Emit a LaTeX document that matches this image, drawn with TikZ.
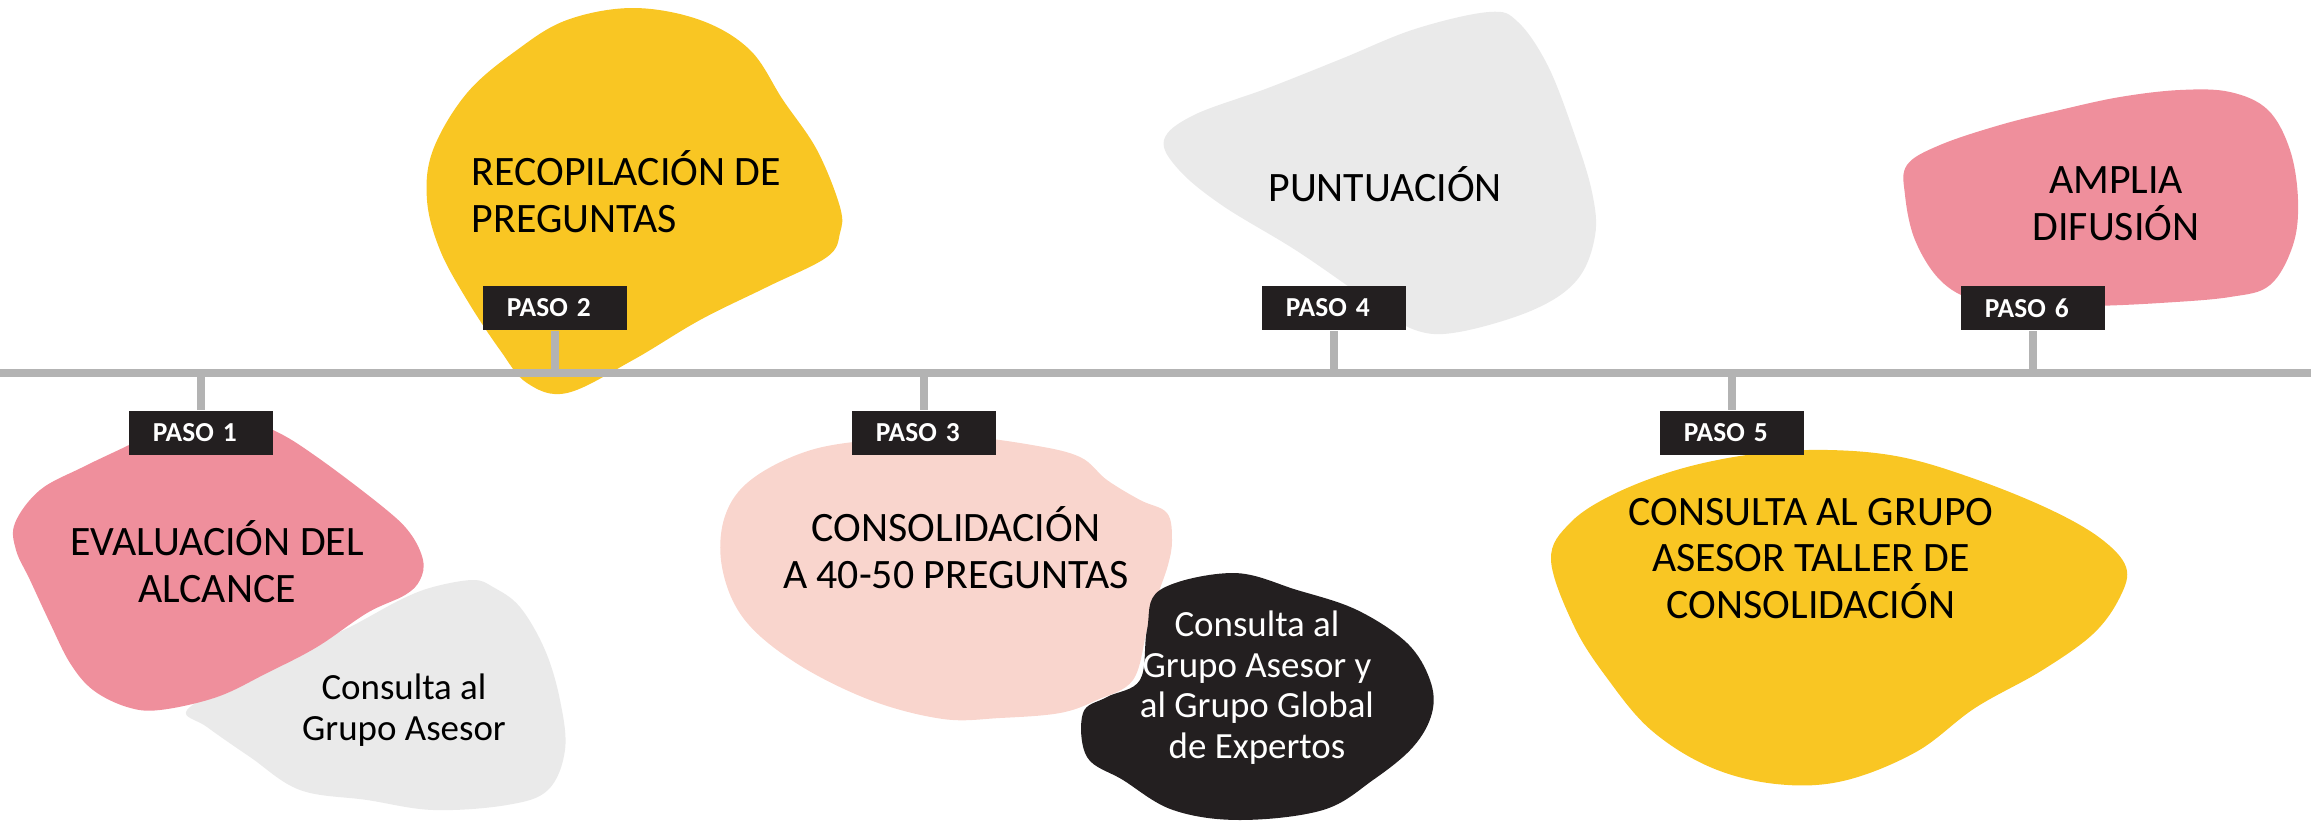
\documentclass[tikz,border=0pt]{standalone}
\usepackage{fontspec}
\setmainfont{Carlito}
\definecolor{cyel}{HTML}{F9C623}
\definecolor{cpink}{HTML}{EF8F9C}
\definecolor{clpink}{HTML}{F9D5CD}
\definecolor{cgray}{HTML}{EAEAEA}
\definecolor{cblack}{HTML}{231F20}
\definecolor{cline}{HTML}{B3B3B3}
\tikzset{
  pasobox/.style={fill=cblack, text=white, font=\fontsize{7.8}{9}\selectfont\bfseries,
    minimum height=0.44cm, inner xsep=0.24cm, inner ysep=0pt, text width=0.96cm, align=left},
  tick/.style={draw=cline, line width=2.3pt},
  biglabel/.style={font=\fontsize{11.9}{13.2}\selectfont, align=center, inner sep=0pt, anchor=base},
  smalllabel/.style={font=\fontsize{10.5}{11.5}\selectfont, align=center, inner sep=0pt, anchor=base},
}
\begin{document}
\begin{tikzpicture}[x=0.01cm,y=-0.01cm]
\useasboundingbox (0,0) rectangle (2311,833);
% blobs
\fill[cgray] plot[smooth cycle, tension=0.6] coordinates {(187,710) (207,727) (250,757) (300,790) (367,800) (433,810) (507,805) (548,790) (565,750) (560,700) (545,650) (520,607) (493,587) (473,580) (433,587) (400,600) (350,627) (300,650) (240,680)};
\fill[cpink] plot[smooth cycle, tension=0.6] coordinates {(15,523) (40,490) (83,467) (129,445) (175,422) (220,412) (273,430) (317,457) (383,507) (410,533) (423,560) (420,580) (405,595) (367,613) (317,647) (267,673) (217,697) (160,710) (127,707) (93,690) (70,663) (50,623) (30,580) (16,550)};
\fill[cyel] plot[smooth cycle, tension=0.6] coordinates {(427,200) (433,150) (467,93) (517,50) (567,20) (633,8) (700,20) (750,50) (783,100) (817,150) (840,207) (840,233) (827,257) (767,287) (700,320) (633,360) (567,393) (527,383) (500,350) (467,300) (440,250)};
\fill[cgray] plot[smooth cycle, tension=0.6] coordinates {(1164,140) (1194,115) (1268,88) (1341,59) (1415,29) (1489,12) (1518,22) (1548,66) (1574,133) (1592,192) (1595,236) (1577,280) (1533,310) (1459,332) (1415,330) (1371,302) (1297,251) (1223,206) (1179,170)};
\fill[cpink] plot[smooth cycle, tension=0.6] coordinates {(1907,165) (1940,145) (2000,125) (2060,110) (2120,97) (2180,90) (2230,92) (2268,110) (2290,150) (2298,200) (2293,245) (2270,285) (2230,297) (2160,303) (2090,306) (2030,305) (1975,300) (1940,280) (1915,240) (1905,195)};
\fill[clpink] plot[smooth cycle, tension=0.6] coordinates {(722,567) (725,516) (752,479) (811,450) (884,439) (958,436) (1032,445) (1080,457) (1107,480) (1140,500) (1167,513) (1172,540) (1168,565) (1157,597) (1147,630) (1133,680) (1097,700) (1060,713) (1000,718) (943,719) (870,700) (796,663) (744,619)};
\fill[cblack] plot[smooth cycle, tension=0.6] coordinates {(1083,713) (1107,697) (1140,680) (1147,630) (1160,590) (1233,573) (1297,590) (1357,610) (1407,643) (1430,680) (1432,713) (1413,747) (1373,780) (1323,810) (1240,820) (1173,810) (1123,780) (1087,757)};
\fill[cyel] plot[smooth cycle, tension=0.6] coordinates {(1551,560) (1570,523) (1614,494) (1680,469) (1754,454) (1828,450) (1901,457) (1975,479) (2049,509) (2100,538) (2126,567) (2120,597) (2093,634) (2041,671) (1975,708) (1916,752) (1843,781) (1776,784) (1710,767) (1651,730) (1607,678) (1574,626)};
% timeline
\coordinate (L) at (0,373);
\coordinate (R) at (2311,373);
\draw[cline, line width=2.3pt] (L) -- (R);
% boxes
\node[pasobox] (p1) at (201,433) {PASO 1};
\node[pasobox] (p2) at (555,308) {PASO 2};
\node[pasobox] (p3) at (924,433) {PASO 3};
\node[pasobox] (p4) at (1334,308) {PASO 4};
\node[pasobox] (p5) at (1732,433) {PASO 5};
\node[pasobox] (p6) at (2033,308) {PASO 6};
\foreach \i/\x in {1/201,2/555,3/924,4/1334,5/1732,6/2033} {
  \coordinate (t\i) at (\x,373);
}
\draw[tick] (t1) -- (p1.north);
\draw[tick] (t2) -- (p2.south);
\draw[tick] (t3) -- (p3.north);
\draw[tick] (t4) -- (p4.south);
\draw[tick] (t5) -- (p5.north);
\draw[tick] (t6) -- (p6.south);
% labels (base anchor = baseline of the last line)
\node[biglabel, align=left, anchor=base west] (recop) at (471,232) {RECOPILACIÓN DE\\PREGUNTAS};
\node[biglabel] (punt) at (1385,201) {PUNTUACIÓN};
\node[biglabel] (ampl) at (2116,240) {AMPLIA\\DIFUSIÓN};
\node[biglabel] (eval) at (217,602) {EVALUACIÓN DEL\\ALCANCE};
\node[smalllabel] (c1) at (404,740) {Consulta al\\Grupo Asesor};
\node[biglabel] (consol) at (956,588) {CONSOLIDACIÓN\\A 40-50 PREGUNTAS};
\node[smalllabel, text=white] (c3) at (1257,758) {Consulta al\\Grupo Asesor y\\al Grupo Global\\de Expertos};
\node[biglabel] (c5) at (1811,618) {CONSULTA AL GRUPO\\ASESOR TALLER DE\\CONSOLIDACIÓN};
\end{tikzpicture}
\end{document}
